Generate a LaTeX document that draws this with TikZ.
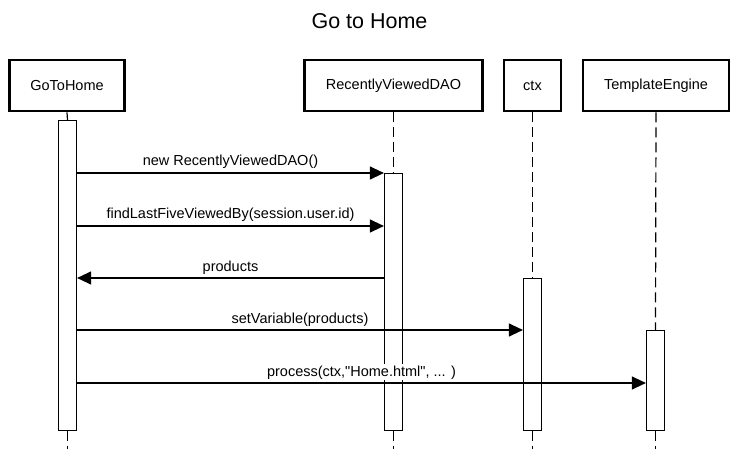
\documentclass[tikz,border=0pt]{standalone}
\usepackage{fontspec}
\setmainfont{Liberation Sans}
\usetikzlibrary{arrows.meta}

\begin{document}
\begin{tikzpicture}[x=1pt, y=-1pt, every node/.style={font=\fontsize{14.5}{17}\selectfont},
		actor/.style={draw, line width=2.8pt, minimum height=51pt, inner sep=0pt},
		activation/.style={draw, fill=white, line width=1.2pt, minimum width=18pt, inner sep=0pt},
		lifeline/.style={line width=1.2pt, dash pattern=on 10pt off 5pt},
		msg/.style={line width=1.2pt, -{Triangle[length=14pt,width=13pt]}},
		lbl/.style={fill=white, inner sep=1pt, anchor=base, yshift=7pt}]
	\useasboundingbox (0,0) rectangle (739,449);
	\node[font=\fontsize{21.5}{25}\selectfont, anchor=base] (title) at (369.5,29) {Go to Home};
	
	% participants
	\node[actor, minimum width=115pt] (home) at (67,85.5) {GoToHome};
	\node[actor, minimum width=178pt] (dao) at (393.5,85.5) {RecentlyViewedDAO};
	\node[actor, minimum width=57pt] (ctx) at (532.5,85.5) {ctx};
	\node[actor, minimum width=146pt] (engine) at (656,85.5) {TemplateEngine};
	
	\coordinate (bot) at (0,449);
	\coordinate (m1) at (0,173);
	\coordinate (m2) at (0,226);
	\coordinate (m3) at (0,278);
	\coordinate (m4) at (0,330);
	\coordinate (m5) at (0,383);
	
	% activations
	\node[activation, minimum height=310pt] (homeact) at (67.5,275.5) {};
	\node[activation, minimum height=257pt] (daoact) at (393.5,302) {};
	\node[activation, minimum height=152pt] (ctxact) at (532.5,354.5) {};
	\node[activation, minimum height=100pt] (engineact) at (655.5,380.5) {};
	
	% lifelines
	\draw[lifeline] (home.south) -- (homeact.north);
	\draw[lifeline] (homeact.south) -- (homeact.south |- bot);
	\draw[lifeline] (dao.south) -- (daoact.north);
	\draw[lifeline] (daoact.south) -- (daoact.south |- bot);
	\draw[lifeline] (ctx.south) -- (ctxact.north);
	\draw[lifeline] (ctxact.south) -- (ctxact.south |- bot);
	\draw[lifeline] (engine.south) -- (engineact.north);
	\draw[lifeline] (engineact.south) -- (engineact.south |- bot);
	
	% messages
	\draw[msg] (homeact.east |- m1) -- node[lbl] {new RecentlyViewedDAO()} (daoact.west |- m1);
	\draw[msg] (homeact.east |- m2) -- node[lbl] {findLastFiveViewedBy(session.user.id)} (daoact.west |- m2);
	\draw[msg] (daoact.west |- m3) -- node[lbl] {products} (homeact.east |- m3);
	\draw[msg] (homeact.east |- m4) -- node[lbl] {setVariable(products)} (ctxact.west |- m4);
	\draw[msg] (homeact.east |- m5) -- node[lbl] {process(ctx,\textquotedbl Home.html\textquotedbl, ... )} (engineact.west |- m5);
\end{tikzpicture}
\end{document}
